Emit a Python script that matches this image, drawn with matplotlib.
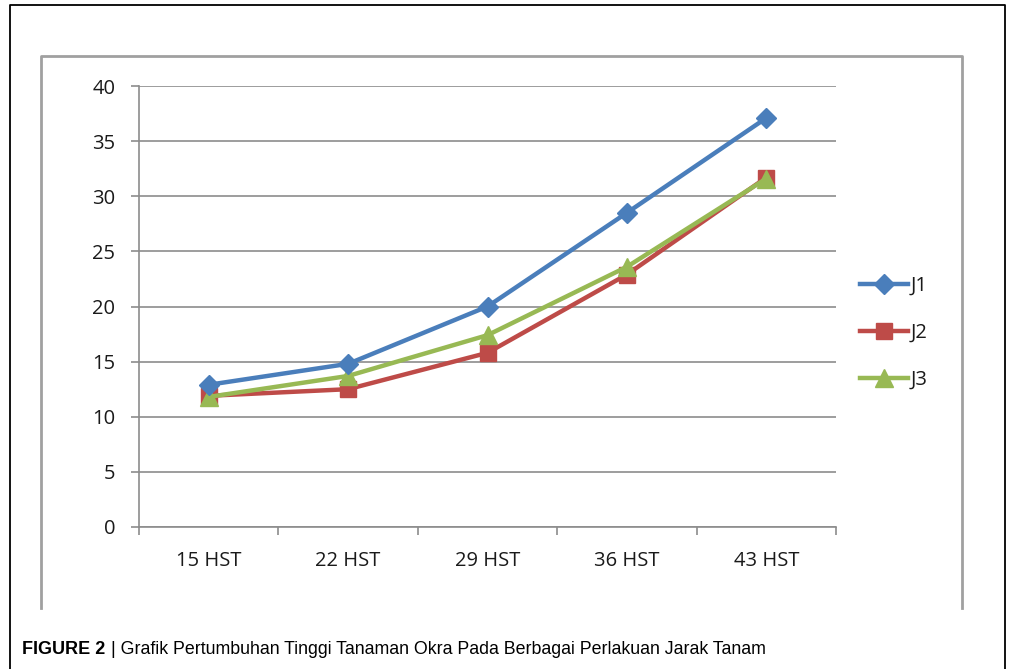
import matplotlib.pyplot as plt
from matplotlib.lines import Line2D
import numpy as np

# data
categories = ['15 HST', '22 HST', '29 HST', '36 HST', '43 HST']
j1 = [12.9, 14.8, 20.0, 28.5, 37.1]
j2 = [11.9, 12.5, 15.8, 22.9, 31.7]
j3 = [11.8, 13.7, 17.4, 23.6, 31.6]
series_names = ['J1', 'J2', 'J3']

W, H = 1011, 669
fig = plt.figure(figsize=(W / 100, H / 100), dpi=100)

def fx(x):
    return x / W

def fy(y):
    return 1 - y / H

# outer black frame (open at the bottom)
fig.add_artist(Line2D([fx(10), fx(10), fx(1005), fx(1005)], [0, fy(5), fy(5), 0],
                      color='black', lw=1.3, transform=fig.transFigure))
# gray chart area border
fig.add_artist(Line2D([fx(41), fx(41), fx(962), fx(962)], [fy(608), fy(56), fy(56), fy(608)],
                      color='#a0a0a0', lw=2, transform=fig.transFigure))

ax = fig.add_axes([fx(139), fy(527), fx(836) - fx(139), fy(86) - fy(527)])
x = np.arange(len(categories))

ax.plot(x, j1, color='#4a7ebb', lw=3.2, marker='D', ms=10, label=series_names[0], zorder=5)
ax.plot(x, j2, color='#be4b48', lw=3.2, marker='s', ms=11, label=series_names[1], zorder=3)
ax.plot(x, j3, color='#98b954', lw=3.2, marker='^', ms=12.5, label=series_names[2], zorder=4)

ax.set_xlim(-0.5, len(categories) - 0.5)
ax.set_ylim(0, 40)
ax.set_yticks(np.arange(0, 41, 5))
ax.set_xticks(x)
ax.set_xticklabels(categories)
ax.set_xticks(np.arange(-0.5, len(categories), 1), minor=True)

ax.grid(axis='y', color='#8c8c8c', lw=1.2)
ax.set_axisbelow(True)
for s in ['top', 'right']:
    ax.spines[s].set_visible(False)
for s in ['left', 'bottom']:
    ax.spines[s].set_color('#8c8c8c')
    ax.spines[s].set_linewidth(1.2)

ax.tick_params(axis='y', length=6, width=1.2, color='#8c8c8c', pad=11,
               labelsize=14.5, labelcolor='#1a1a1a')
ax.tick_params(axis='x', which='major', length=0, pad=17, labelsize=14.5, labelcolor='#1a1a1a')
ax.tick_params(axis='x', which='minor', length=6, width=1.2, color='#8c8c8c')
for lab in ax.get_xticklabels() + ax.get_yticklabels():
    lab.set_fontfamily('Open Sans')

leg = ax.legend(loc='center left', bbox_to_anchor=(fx(842), fy(333)), bbox_transform=fig.transFigure,
                frameon=False, fontsize=14.5, handlelength=2.4, labelspacing=1.35, handletextpad=0.1)
for t in leg.get_texts():
    t.set_fontfamily('Open Sans')
    t.set_color('#1a1a1a')

# caption
fig.text(fx(22), fy(649), 'FIGURE 2', fontsize=13, fontweight='bold', fontfamily='Liberation Sans',
         va='center', ha='left')
fig.text(fx(111), fy(649), '| Grafik Pertumbuhan Tinggi Tanaman Okra Pada Berbagai Perlakuan Jarak Tanam',
         fontsize=12.8, fontfamily='Liberation Sans', va='center', ha='left')

fig.savefig('out.png', dpi=100)
